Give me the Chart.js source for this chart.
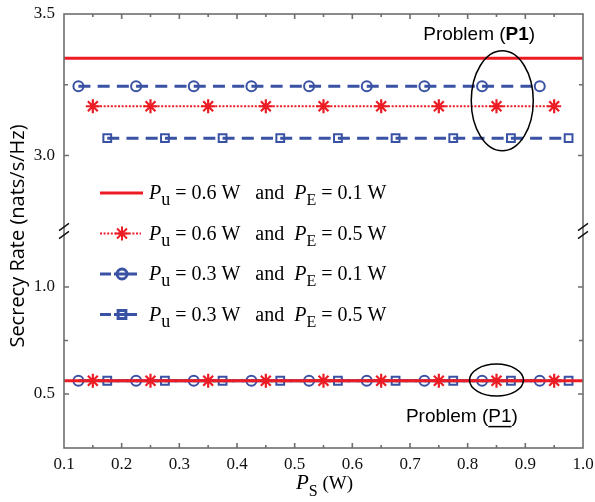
<!DOCTYPE html>
<html><head><meta charset="utf-8">
<script src="https://cdn.jsdelivr.net/npm/chart.js@4/dist/chart.umd.min.js"></script>
<style>html,body{margin:0;padding:0;background:#fff}canvas{display:block}</style>
</head><body>
<canvas id="c" width="595" height="502"></canvas>
<script>
// ---- data ----
const xTickValues = [0.1,0.15,0.2,0.25,0.3,0.35,0.4,0.45,0.5,0.55,0.6,0.65,0.7,0.75,0.8,0.85,0.9,0.95,1.0];
const xTickLabels = ['0.1','','0.2','','0.3','','0.4','','0.5','','0.6','','0.7','','0.8','','0.9','','1.0'];
const yTopTicks = [3.5, 3.25, 3.0];
const yTopLabels = ['3.5', '', '3.0'];
const yBottomTicks = [1.0, 0.75, 0.5];
const yBottomLabels = ['1.0', '', '0.5'];

const psSolid  = [0.1, 1.0];
const psCircle = [0.125,0.225,0.325,0.425,0.525,0.625,0.725,0.825,0.925];
const psStar   = [0.15,0.25,0.35,0.45,0.55,0.65,0.75,0.85,0.95];
const psSquare = [0.175,0.275,0.375,0.475,0.575,0.675,0.775,0.875,0.975];

// Problem (P1) - upper panel
const rateP1Solid  = [3.344, 3.344];
const rateP1Circle = [3.245,3.245,3.245,3.245,3.245,3.245,3.245,3.245,3.245];
const rateP1Star   = [3.174,3.174,3.174,3.174,3.174,3.174,3.174,3.174,3.174];
const rateP1Square = [3.061,3.061,3.061,3.061,3.061,3.061,3.061,3.061,3.061];
// Problem (P1 underlined) - lower panel
const rateP1uSolid  = [0.562, 0.562];
const rateP1uCircle = [0.562,0.562,0.562,0.562,0.562,0.562,0.562,0.562,0.562];
const rateP1uStar   = [0.562,0.562,0.562,0.562,0.562,0.562,0.562,0.562,0.562];
const rateP1uSquare = [0.562,0.562,0.562,0.562,0.562,0.562,0.562,0.562,0.562];

const legendPu = ['0.6', '0.6', '0.3', '0.3'];
const legendPe = ['0.1', '0.5', '0.1', '0.5'];

// ---- styles ----
const RED = '#ec1c24';
const BLUE = '#3a52a3';
const styles = [
  {color: RED, width: 3, dash: [], pointStyle: false, radius: 0},
  {color: RED, width: 2, dash: [2, 1.6], pointStyle: 'star', radius: 7},
  {color: BLUE, width: 3, dash: [12, 7.22], pointStyle: 'circle', radius: 5},
  {color: BLUE, width: 3, dash: [12, 7.22], pointStyle: 'rect', radius: 5.5}
];

function pts(xs, ys) { return xs.map((x, i) => ({x: x, y: ys[i]})); }
function mk(xs, ys, axis, s) {
  return {
    data: pts(xs, ys), yAxisID: axis,
    borderColor: s.color, backgroundColor: 'rgba(0,0,0,0)',
    borderWidth: s.width, borderDash: s.dash,
    pointStyle: s.pointStyle, pointRadius: s.radius,
    pointBorderColor: s.color, pointBackgroundColor: 'rgba(0,0,0,0)',
    pointBorderWidth: s.pointStyle === 'star' ? 2.2 : 2,
    fill: false, tension: 0
  };
}
const datasets = [
  mk(psSolid, rateP1Solid, 'yTop', styles[0]),
  mk(psStar, rateP1Star, 'yTop', styles[1]),
  mk(psCircle, rateP1Circle, 'yTop', styles[2]),
  mk(psSquare, rateP1Square, 'yTop', styles[3]),
  mk(psSolid, rateP1uSolid, 'yBot', styles[0]),
  mk(psStar, rateP1uStar, 'yBot', styles[1]),
  mk(psCircle, rateP1uCircle, 'yBot', styles[2]),
  mk(psSquare, rateP1uSquare, 'yBot', styles[3])
];

const SERIF = '"Liberation Serif", "Times New Roman", serif';
const SANS = '"Liberation Sans", Arial, sans-serif';
const AXIS = '#6e6e6e';

function drawRich(ctx, parts, x, y, align) {
  let w = 0;
  parts.forEach(p => { ctx.font = p.font; w += ctx.measureText(p.t).width; });
  let cx = align === 'center' ? x - w / 2 : x;
  const spans = [];
  parts.forEach(p => {
    ctx.font = p.font;
    const pw = ctx.measureText(p.t).width;
    ctx.textAlign = 'left';
    ctx.textBaseline = 'alphabetic';
    ctx.fillText(p.t, cx, y + (p.dy || 0));
    spans.push({x: cx, w: pw});
    cx += pw;
  });
  return spans;
}

const overlay = {
  id: 'overlay',
  afterDatasetsDraw(chart) {
    const ctx = chart.ctx;
    const a = chart.chartArea;
    const xs = chart.scales.x, yt = chart.scales.yTop, yb = chart.scales.yBot;
    ctx.save();
    // frame
    ctx.strokeStyle = AXIS; ctx.lineWidth = 1.6; ctx.setLineDash([]);
    ctx.strokeRect(a.left, a.top, a.right - a.left, a.bottom - a.top);
    // inward ticks
    ctx.beginPath();
    xTickValues.forEach((v, i) => {
      if (v <= 0.1 || v >= 1.0) return;
      const px = xs.getPixelForValue(v);
      const len = xTickLabels[i] ? 5 : 3;
      ctx.moveTo(px, a.bottom); ctx.lineTo(px, a.bottom - len);
      ctx.moveTo(px, a.top); ctx.lineTo(px, a.top + len);
    });
    const yt2 = [[yt, yTopTicks, yTopLabels], [yb, yBottomTicks, yBottomLabels]];
    yt2.forEach(([sc, tv, tl]) => {
      tv.forEach((v, i) => {
        const py = sc.getPixelForValue(v);
        if (py <= a.top + 1 || py >= a.bottom - 1) return;
        const len = tl[i] ? 5 : 4;
        ctx.moveTo(a.left, py); ctx.lineTo(a.left + len, py);
        ctx.moveTo(a.right, py); ctx.lineTo(a.right - len, py);
      });
    });
    ctx.stroke();
    // axis break marks
    const ybk = yt.bottom;
    ctx.strokeStyle = '#111'; ctx.lineWidth = 1.4;
    ctx.beginPath();
    [a.left, a.right].forEach(x => {
      [-4, 4].forEach(d => {
        ctx.moveTo(x - 5, ybk + d + 3.6);
        ctx.lineTo(x + 5, ybk + d - 3.6);
      });
    });
    ctx.stroke();

    // legend
    for (let i = 0; i < 4; i++) {
      const s = styles[i];
      const ly = a.top + 179 + 40.5 * i;
      const x0 = a.left + 36, xm = a.left + 58;
      ctx.strokeStyle = s.color; ctx.lineWidth = s.width;
      ctx.beginPath();
      if (i >= 2) {
        ctx.setLineDash([]);
        ctx.moveTo(x0, ly); ctx.lineTo(x0 + 11, ly);
        ctx.moveTo(x0 + 14, ly); ctx.lineTo(x0 + 37, ly);
      } else {
        ctx.setLineDash(s.dash);
        ctx.moveTo(x0, ly); ctx.lineTo(x0 + (i === 0 ? 43 : 41), ly);
      }
      ctx.stroke();
      ctx.setLineDash([]);
      if (s.pointStyle) {
        ctx.strokeStyle = s.color; ctx.fillStyle = 'rgba(0,0,0,0)';
        Chart.helpers.drawPoint(ctx, {pointStyle: s.pointStyle, radius: s.radius, rotation: 0,
          borderWidth: s.pointStyle === 'star' ? 2.2 : 2}, xm, ly);
      }
      ctx.fillStyle = '#000';
      drawRich(ctx, [
        {t: 'P', font: 'italic 20px ' + SERIF},
        {t: 'u', font: '18px ' + SERIF, dy: 6},
        {t: ' = ' + legendPu[i] + ' W   and  ', font: '20px ' + SERIF},
        {t: 'P', font: 'italic 20px ' + SERIF},
        {t: 'E', font: '16px ' + SERIF, dy: 6},
        {t: ' = ' + legendPe[i] + ' W', font: '20px ' + SERIF}
      ], a.left + 85, ly + 6, 'left');
    }

    // annotations
    ctx.strokeStyle = '#000'; ctx.lineWidth = 1.5;
    ctx.beginPath();
    ctx.ellipse(xs.getPixelForValue(0.86), yt.getPixelForValue(3.193), 31, 50, 0, 0, Math.PI * 2);
    ctx.stroke();
    ctx.beginPath();
    ctx.ellipse(xs.getPixelForValue(0.85), yb.getPixelForValue(0.565), 27, 16, 0, 0, Math.PI * 2);
    ctx.stroke();
    ctx.fillStyle = '#000';
    drawRich(ctx, [
      {t: 'Problem (', font: '19px ' + SANS},
      {t: 'P1', font: 'bold 19px ' + SANS},
      {t: ')', font: '19px ' + SANS}
    ], xs.getPixelForValue(0.82), yt.getPixelForValue(3.408), 'center');
    const by = yb.getPixelForValue(0.371);
    const sp = drawRich(ctx, [
      {t: 'Problem (', font: '19px ' + SANS},
      {t: 'P1', font: '19px ' + SANS},
      {t: ')', font: '19px ' + SANS}
    ], xs.getPixelForValue(0.79), by, 'center');
    ctx.lineWidth = 1.5;
    ctx.beginPath();
    ctx.moveTo(sp[1].x, by + 5); ctx.lineTo(sp[1].x + sp[1].w, by + 5);
    ctx.stroke();

    // axis titles
    drawRich(ctx, [
      {t: 'P', font: 'italic 21px ' + SERIF},
      {t: 'S', font: '16px ' + SERIF, dy: 7},
      {t: ' (W)', font: '19px ' + SERIF}
    ], (a.left + a.right) / 2 + 1, 489, 'center');
    ctx.save();
    ctx.translate(18, (a.top + a.bottom) / 2 + 5);
    ctx.rotate(-Math.PI / 2);
    ctx.font = '20px "Open Sans", sans-serif';
    ctx.textAlign = 'center'; ctx.textBaseline = 'middle';
    ctx.fillText('Secrecy Rate (nats/s/Hz)', 0, 0);
    ctx.restore();
    ctx.restore();
  }
};

function noPad(s) { s.paddingTop = 0; s.paddingBottom = 0; s.paddingLeft = 0; s.paddingRight = 0; }
const tickFont = {family: SERIF, size: 17};
new Chart(document.getElementById('c'), {
  type: 'line',
  data: {datasets: datasets},
  options: {
    responsive: false, animation: false, devicePixelRatio: 1,
    layout: {padding: {left: 0, top: 14, right: 12, bottom: 0}},
    plugins: {legend: {display: false}, tooltip: {enabled: false}},
    scales: {
      x: {
        type: 'linear', min: 0.1, max: 1.0,
        afterBuildTicks: s => { s.ticks = xTickValues.map(v => ({value: v})); },
        afterFit: s => { s.height = 54; noPad(s); },
        ticks: {autoSkip: false, maxRotation: 0, padding: 6, color: '#111', font: tickFont,
          callback: (v, i) => xTickLabels[i]},
        grid: {display: false, drawTicks: false}, border: {display: false}
      },
      yBot: {
        type: 'linear', position: 'left', stack: 'y', stackWeight: 1,
        min: 0.2477, max: 1.2617,
        afterBuildTicks: s => { s.ticks = yBottomTicks.map(v => ({value: v})); },
        afterFit: s => { s.width = 64; noPad(s); },
        ticks: {autoSkip: false, padding: 9, color: '#111', font: tickFont,
          callback: (v, i) => yBottomLabels[i]},
        grid: {display: false, drawTicks: false}, border: {display: false}
      },
      yTop: {
        type: 'linear', position: 'left', stack: 'y', stackWeight: 1,
        min: 2.733, max: 3.5,
        afterBuildTicks: s => { s.ticks = yTopTicks.map(v => ({value: v})); },
        afterFit: s => { s.width = 64; noPad(s); },
        ticks: {autoSkip: false, padding: 9, color: '#111', font: tickFont,
          callback: (v, i) => yTopLabels[i]},
        grid: {display: false, drawTicks: false}, border: {display: false}
      }
    }
  },
  plugins: [overlay]
});
</script>
</body></html>
